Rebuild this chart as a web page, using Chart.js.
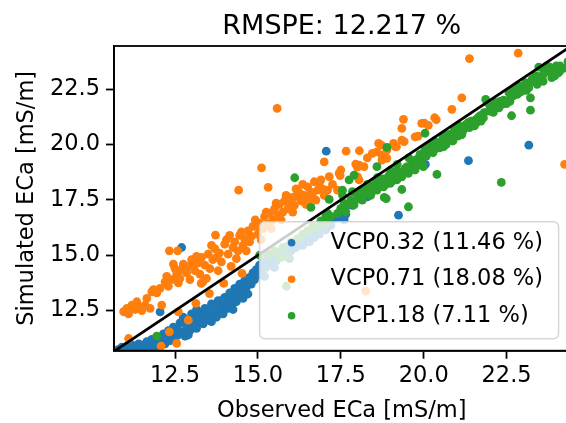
<!DOCTYPE html>
<html><head><meta charset="utf-8">
<script src="https://cdn.jsdelivr.net/npm/chart.js@4"></script>
<style>html,body{margin:0;padding:0;overflow:hidden;background:#fff}canvas{display:block}</style>
</head><body>
<canvas id="c" width="574" height="423"></canvas>
<script>
const titleText = 'RMSPE: 12.217 %';
const xTitle = 'Observed ECa [mS/m]';
const yTitle = 'Simulated ECa [mS/m]';
const seriesLabels = ['VCP0.32 (11.46 %)', 'VCP0.71 (18.08 %)', 'VCP1.18 (7.11 %)'];
const seriesColors = ['#1f77b4', '#ff7f0e', '#2ca02c'];
const xTicks = [12.5, 15.0, 17.5, 20.0, 22.5];
const yTicks = [12.5, 15.0, 17.5, 20.0, 22.5];
const identityLine = [10, 25];

const vcp032 = [
[10.8,10.75],[10.9,10.85],[10.95,10.72],[11.05,10.9],[11.1,10.78],[11.2,10.95],[11.25,10.75],[11.3,10.85],[11.4,11.0],[11.45,10.8],
[11.55,10.95],[11.6,10.75],[11.65,11.1],[11.75,10.9],[11.8,11.2],[11.85,10.8],[11.9,11.05],[12.0,11.3],[12.05,10.95],[12.1,11.15],
[12.15,11.45],[12.2,11.0],[12.25,11.3],[12.3,11.6],[12.35,11.15],[12.4,11.45],[12.5,11.25],[12.55,11.7],[12.6,11.4],[12.65,11.95],
[12.7,11.55],[12.75,12.2],[12.8,11.35],[12.85,11.8],[12.9,12.05],[12.95,11.6],[13.0,12.35],[13.05,11.85],[13.1,12.15],[13.15,11.7],
[13.2,12.45],[13.25,12.0],[13.3,12.3],[13.35,11.9],[13.4,12.6],[13.45,12.15],[13.5,12.45],[13.55,12.05],[13.6,12.8],[13.65,12.3],
[13.7,12.6],[13.75,12.2],[13.8,12.95],[13.85,12.45],[13.9,12.75],[13.95,12.35],[14.0,13.1],[14.05,12.6],[14.1,12.9],[14.15,13.3],
[14.2,12.75],[14.25,13.05],[14.3,13.5],[14.35,12.9],[14.4,13.25],[14.42,13.12],[14.45,13.7],[14.5,13.4],[14.55,13.05],[14.6,13.85],
[14.65,13.55],[14.7,13.25],[14.75,14.0],[14.8,13.7],[14.85,14.2],[14.9,13.9],[14.95,14.35],[15.0,14.1],[15.05,14.55],[15.1,14.25],
[15.15,14.7],[15.25,14.45],[15.3,14.8],[15.4,14.6],[15.45,14.95],[15.55,14.75],[15.6,15.1],[15.7,14.9],[15.75,15.25],[15.85,15.05],
[15.9,15.4],[16.0,15.2],[16.05,15.5],[16.15,15.35],[16.25,15.6],[16.35,15.45],[16.45,15.75],[16.55,15.6],[16.6,16.05],[16.7,15.8],
[16.75,16.1],[16.85,15.95],[16.95,16.3],[17.05,16.15],[17.1,16.5],[17.2,16.35],[17.3,16.65],[17.4,16.7],[17.5,16.8],[17.6,16.6],
[17.65,16.85],[17.7,17.25],[17.85,17.25],[18.05,17.64],[18.3,17.64],[18.38,17.94],[12.7,15.35],[12.05,12.44],[14.09,12.6],[17.06,19.7],
[19.24,16.81],[20.05,19.1],[20.32,20.16],[21.35,19.27],[23.17,19.97],[10.75,10.68],[11.0,10.65],[11.5,10.62],[11.95,10.68],
[12.45,11.75],[12.9,11.4],[13.15,12.55],[13.6,12.0],[13.95,13.0],[14.25,12.55],[14.7,13.75],[15.2,14.05],[15.5,14.45],[15.95,14.85]
];

const vcp071 = [
[10.95,12.45],[11.05,12.6],[11.1,12.35],[11.2,12.75],[11.3,12.55],[11.35,12.9],[11.45,12.65],[11.5,12.5],[11.6,12.75],[11.65,13.05],
[11.75,12.6],[11.8,13.35],[11.85,13.45],[11.95,13.3],[12.05,13.5],[12.1,12.75],[12.2,13.8],[12.25,14.05],[12.3,13.6],[12.4,13.9],
[12.5,14.4],[12.55,14.15],[12.6,13.75],[12.7,14.35],[12.75,14.6],[12.85,14.2],[12.9,14.5],[13.0,14.8],[13.05,14.6],[13.1,14.3],
[13.2,14.65],[13.25,14.15],[13.3,14.9],[13.34,13.8],[13.4,14.55],[13.5,15.05],[13.55,14.4],[13.64,14.8],[13.7,15.3],[13.75,14.9],
[13.84,15.1],[13.9,14.7],[14.0,15.5],[14.05,15.7],[14.1,15.05],[14.19,14.5],[14.25,15.35],[14.3,15.6],[14.4,15.2],[14.45,15.9],
[14.55,15.45],[14.6,15.75],[14.7,16.1],[14.75,15.6],[14.85,16.3],[14.92,16.6],[15.0,15.95],[15.05,16.45],[15.15,16.2],[15.2,16.75],
[15.3,16.4],[15.35,16.9],[15.45,16.6],[15.5,17.1],[15.6,16.8],[15.65,17.3],[15.75,16.95],[15.8,17.45],[15.9,17.1],[15.96,17.27],
[16.0,17.6],[16.1,17.25],[16.11,17.64],[16.2,17.9],[16.26,17.79],[16.3,17.45],[16.4,17.7],[16.5,18.09],[16.55,17.5],[16.6,17.85],
[16.7,18.32],[16.75,17.49],[16.8,17.94],[16.85,18.25],[16.9,18.4],[16.95,18.0],[17.0,17.7],[17.1,17.94],[17.15,18.55],[17.25,18.2],
[17.4,17.94],[17.45,18.7],[17.48,18.6],[17.5,18.85],[17.66,19.7],[17.0,19.22],[17.95,19.12],[18.0,18.98],[18.05,19.07],[18.06,19.72],
[18.0,18.55],[18.05,18.4],[18.2,19.0],[18.3,19.4],[18.45,19.6],[18.59,19.67],[18.64,20.05],[18.72,19.97],[18.74,19.52],[18.74,19.3],
[18.89,19.38],[18.89,19.75],[19.09,20.05],[19.14,19.9],[19.18,19.9],[19.34,20.2],[19.34,20.73],[19.39,21.14],[19.41,20.13],[19.74,20.35],
[19.83,20.38],[19.94,20.96],[20.02,20.97],[20.14,20.87],[20.33,21.21],[20.38,21.12],[20.85,21.59],[21.15,22.11],[21.38,23.88],[22.85,24.13],
[24.25,19.1],[15.58,21.63],[15.11,18.95],[15.31,18.07],[14.42,17.94],[13.72,15.91],[12.33,15.2],[12.58,15.2],[11.1,11.24],[12.08,10.9],
[12.55,11.02],[12.33,11.54],[12.9,12.07],[12.6,12.44],[13.13,12.83],[13.54,13.27],[13.29,13.73],[13.97,13.73],[14.52,14.18],[18.25,13.38],
[12.45,14.6],[12.65,13.95],[12.95,13.9],[13.15,14.95],[13.45,13.95],[13.6,15.45],[13.8,14.3],[14.15,15.9],[14.35,14.85],[14.5,16.05],
[14.65,15.2],[14.8,15.85],[14.95,16.3],[15.1,15.7],[15.25,16.95],[15.4,16.2],[15.55,17.35],[15.7,16.6],[15.85,17.7],[16.05,16.95],
[16.15,18.0],[16.35,18.2],[16.45,17.3],[16.65,17.65]
];

const vcp118 = [
[11.95,11.35],[15.05,15.0],[15.3,15.05],[15.5,15.2],[15.66,14.93],[15.75,15.35],[15.86,13.6],[15.91,14.93],[16.0,15.6],[16.2,15.75],
[16.35,15.95],[16.5,16.1],[16.65,16.3],[16.8,16.25],[16.9,16.55],[17.05,16.45],[17.2,16.75],[16.6,17.16],[17.1,16.89],[16.11,18.5],
[17.4,16.89],[17.5,17.12],[17.6,17.34],[17.65,16.96],[17.8,17.49],[17.9,17.27],[18.0,17.72],[18.1,17.94],[18.15,17.49],[18.25,17.79],
[18.35,18.09],[18.44,17.87],[18.54,18.25],[18.59,17.94],[18.69,18.32],[18.79,18.09],[18.89,18.47],[18.99,18.25],[19.09,18.62],[19.19,18.4],
[19.29,18.77],[19.34,18.54],[19.44,18.92],[19.54,18.7],[19.64,19.07],[19.74,18.85],[19.84,19.22],[19.89,19.45],[19.99,19.0],[20.04,19.52],
[18.59,19.0],[18.89,19.87],[19.34,17.97],[18.81,17.61],[19.54,17.19],[17.15,17.52],[17.9,18.62],[17.75,18.4],[17.55,17.94],[17.85,17.87],
[17.05,16.77],[17.55,17.72],[17.7,17.27],[18.87,17.56],[20.04,20.51],[18.05,17.55],[18.2,18.0],[18.4,17.7],[18.5,18.0],[18.65,18.1],
[18.75,18.45],[18.85,18.2],[18.95,18.6],[19.05,18.35],[19.15,18.75],[19.25,18.55],[19.4,18.75],[19.5,19.0],[19.6,18.85],[19.7,19.25],
[19.8,19.05],[19.95,19.35],
[19.79,19.33],[19.89,19.56],[19.94,19.1],[20.04,19.78],[20.08,19.48],[20.18,19.93],[20.28,19.63],[20.38,20.08],[20.48,19.85],[20.58,20.31],
[20.68,20.01],[20.78,20.46],[20.88,20.16],[20.93,20.69],[21.03,20.38],[21.08,20.84],[21.18,20.61],[21.28,20.91],[21.38,20.76],[21.43,21.06],
[21.53,20.84],[21.63,21.21],[21.73,21.06],[21.82,21.44],[21.87,22.04],[21.92,21.89],[21.97,21.51],[22.07,21.74],[22.17,21.89],[22.27,21.66],
[22.37,21.82],[22.47,21.97],[22.57,22.34],[22.62,22.11],[22.72,22.49],[22.82,22.27],[22.87,22.64],[22.97,22.42],[23.07,22.79],[23.17,22.57],
[23.22,22.11],[23.27,22.95],[23.37,23.09],[23.42,22.72],[23.52,22.95],[23.61,23.17],[23.71,23.55],[23.76,23.32],[23.86,23.02],[23.96,23.4],
[24.06,23.24],[24.11,23.55],[24.25,23.45],[24.35,23.75],
[20.15,19.7],[20.25,20.0],[20.45,20.05],[20.55,20.15],[20.65,20.4],[20.75,20.25],[20.95,20.5],[21.1,20.7],[21.25,20.75],[21.45,20.95],
[21.6,21.0],[21.7,21.3],[22.0,21.6],[22.2,21.75],[22.4,22.0],[22.5,21.85],[22.7,22.2],[22.9,22.35],[23.0,22.6],[23.15,22.75],
[23.3,22.85],[23.45,22.9],[23.55,23.05],[23.65,23.3],[23.85,23.3],[24.0,23.55],[24.1,23.3],[23.47,23.5],
[22.65,21.3],[23.22,21.55],[20.4,18.65],[22.34,18.29],
[18.3,18.2],[18.6,18.5],[19.0,18.85],[19.2,19.1],[19.55,19.4],[20.35,19.8],[20.6,19.9],[20.85,20.35],[21.15,20.45],[21.35,21.0],
[21.55,21.1],[21.8,21.2],[22.1,21.45],[22.3,21.95],[22.6,21.95],[22.8,22.6],[23.1,22.45],[23.4,23.1],[23.6,22.85],[23.8,23.5],[23.95,23.1]
];

const FONT = "'DejaVu Sans', sans-serif";
const toPts = arr => arr.map(p => ({x: p[0], y: p[1]}));
const seriesData = [vcp032, vcp071, vcp118];
const R = 4.4;

const spinesAndLegend = {
  id: 'spinesAndLegend',
  afterDatasetsDraw(chart) {
    const ctx = chart.ctx, a = chart.chartArea;
    ctx.save();
    ctx.strokeStyle = '#000';
    ctx.lineWidth = 1.8;
    ctx.strokeRect(a.left, a.top, a.right - a.left, a.bottom - a.top);
    const w = 299, h = 117;
    const right = a.right - 11, bottom = a.bottom - 12;
    const left = right - w, top = bottom - h;
    const r = 5;
    ctx.beginPath();
    ctx.moveTo(left + r, top);
    ctx.arcTo(right, top, right, bottom, r);
    ctx.arcTo(right, bottom, left, bottom, r);
    ctx.arcTo(left, bottom, left, top, r);
    ctx.arcTo(left, top, right, top, r);
    ctx.closePath();
    ctx.fillStyle = 'rgba(255,255,255,0.8)';
    ctx.fill();
    ctx.strokeStyle = 'rgba(204,204,204,0.8)';
    ctx.lineWidth = 1.5;
    ctx.stroke();
    ctx.font = '22.5px ' + FONT;
    ctx.textBaseline = 'middle';
    ctx.textAlign = 'left';
    chart.data.datasets.forEach((ds, i) => {
      if (i >= seriesLabels.length) return;
      const cy = top + 21 + i * 36.5;
      ctx.beginPath();
      ctx.arc(left + 32, cy, 3.8, 0, Math.PI * 2);
      ctx.fillStyle = ds.backgroundColor;
      ctx.fill();
      ctx.fillStyle = '#000';
      ctx.fillText(ds.label, left + 71, cy);
    });
    ctx.restore();
  }
};

new Chart(document.getElementById('c'), {
  type: 'scatter',
  data: {
    datasets: [
      ...seriesData.map((d, i) => ({
        label: seriesLabels[i], data: toPts(d),
        backgroundColor: seriesColors[i], borderColor: seriesColors[i],
        borderWidth: 0, pointRadius: R, pointHoverRadius: R,
        order: 3 - i, clip: 0
      })),
      {
        label: '1:1', data: identityLine.map(v => ({x: v, y: v})),
        showLine: true, borderColor: '#000', borderWidth: 2.8,
        pointRadius: 0, fill: false, order: 0, clip: 0
      }
    ]
  },
  options: {
    responsive: false, animation: false, devicePixelRatio: 1,
    layout: {padding: 0},
    plugins: {
      legend: {display: false},
      tooltip: {enabled: false},
      title: {
        display: true, text: titleText, fullSize: false, color: '#000',
        font: {family: FONT, size: 27, weight: 'normal', lineHeight: 1.2},
        padding: {top: 10.8, bottom: 2.8}
      }
    },
    scales: {
      x: {
        type: 'linear', position: 'bottom', min: 10.66, max: 24.40,
        afterBuildTicks: s => { s.ticks = xTicks.map(v => ({value: v})); },
        afterFit: s => { s.height = 72.3; },
        ticks: {callback: v => Number(v).toFixed(1), color: '#000', font: {family: FONT, size: 22.5}, padding: 4, maxRotation: 0, autoSkip: false},
        grid: {display: true, drawOnChartArea: false, drawTicks: true, tickLength: 8, tickWidth: 1.8, tickColor: '#000', color: '#000'},
        border: {display: true, color: '#000', width: 1.8},
        title: {display: true, text: xTitle, color: '#000', font: {family: FONT, size: 22.5, lineHeight: 1}, padding: {top: 0, bottom: 1}}
      },
      y: {
        type: 'linear', position: 'left', min: 10.69, max: 24.45,
        afterBuildTicks: s => { s.ticks = yTicks.map(v => ({value: v})); },
        afterFit: s => { s.width = 114; },
        ticks: {callback: v => Number(v).toFixed(1), color: '#000', font: {family: FONT, size: 22.5}, padding: 6, autoSkip: false},
        grid: {display: true, drawOnChartArea: false, drawTicks: true, tickLength: 8, tickWidth: 1.8, tickColor: '#000', color: '#000'},
        border: {display: true, color: '#000', width: 1.8},
        title: {display: true, text: yTitle, color: '#000', font: {family: FONT, size: 22.5, lineHeight: 1}, padding: {top: 16, bottom: 0}}
      }
    }
  },
  plugins: [spinesAndLegend]
});
</script>
</body></html>
